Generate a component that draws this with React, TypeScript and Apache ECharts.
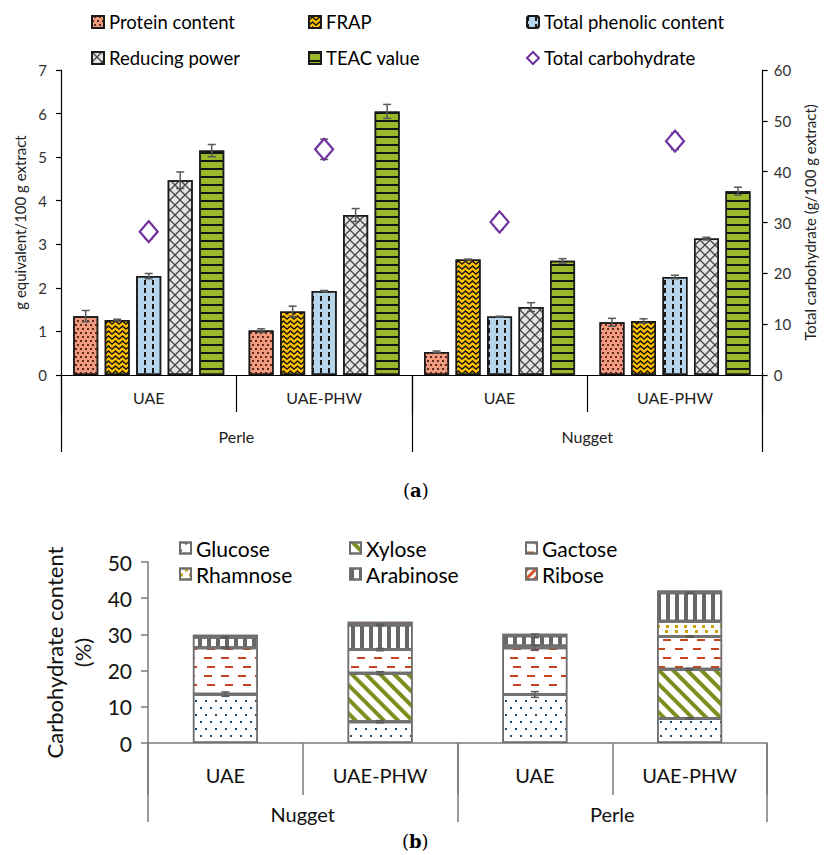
import React, { useEffect, useRef } from 'react';
import * as echarts from 'echarts';

// ---------- Chart (a) data ----------
const subCatsA = ['UAE', 'UAE-PHW', 'UAE', 'UAE-PHW'];
const groupsA = ['Perle', 'Nugget'];
const protein = [1.35, 1.02, 0.53, 1.21];
const proteinErr = [0.13, 0.04, 0.02, 0.09];
const frap = [1.26, 1.46, 2.65, 1.24];
const frapErr = [0.02, 0.12, 0.01, 0.05];
const tpc = [2.27, 1.93, 1.34, 2.25];
const tpcErr = [0.06, 0.01, 0.01, 0.04];
const reducing = [4.47, 3.67, 1.56, 3.13];
const reducingErr = [0.19, 0.15, 0.1, 0.03];
const teac = [5.15, 6.05, 2.62, 4.22];
const teacErr = [0.14, 0.16, 0.05, 0.09];
const carb = [28.2, 44.4, 30.1, 46.0];
const carbErr = [1.4, 2.0, 1.5, 1.6];

// ---------- Chart (b) data ----------
const subCatsB = ['UAE', 'UAE-PHW', 'UAE', 'UAE-PHW'];
const groupsB = ['Nugget', 'Perle'];
const glucose = [13.5, 5.9, 13.4, 6.8];
const glucoseErr = [0.6, 0.3, 0.8, 0.2];
const xylose = [0, 13.4, 0, 13.6];
const xyloseErr = [0, 0.4, 0, 0.2];
const gactose = [12.8, 6.5, 12.9, 9.0];
const gactoseErr = [0.2, 0.3, 0.7, 0.2];
const rhamnose = [0, 0, 0.5, 4.2];
const arabinose = [2.9, 6.8, 2.8, 7.9];
const arabinoseErr = [0.2, 0.2, 0.5, 0.2];
const ribose = [0.7, 0.9, 0.6, 0.6];

const FONT = 'Lato, "Noto Sans", sans-serif';
const BAR_W = 25;
const BAR_STEP = 31.5;

const rectDecal = (color: string, dx: any, dy: any, rotation = 0) => ({
  symbol: 'rect',
  symbolSize: 1,
  symbolKeepAspect: false,
  color,
  dashArrayX: dx,
  dashArrayY: dy,
  rotation,
});

const decalProtein = rectDecal('#5a2c1e', [[1.3, 2.7], [0, 2, 1.3, 0.7]], [1.3, 1.7]);
const decalFrap = {
  symbol: 'path://M0,7 L5,2 L10,7 L10,10 L5,5 L0,10 Z',
  symbolSize: 1,
  symbolKeepAspect: false,
  color: '#111',
  dashArrayX: [7, 0],
  dashArrayY: [5, 0],
};
const decalTpc = rectDecal('#1a1a1a', [1.4, 6], [4.5, 3]);
const decalRp = {
  symbol:
    'path://M0,0 L0.9,0 L10,9.1 L10,10 L9.1,10 L0,0.9 Z M9.1,0 L10,0 L10,0.9 L0.9,10 L0,10 L0,9.1 Z',
  symbolSize: 1,
  symbolKeepAspect: false,
  color: '#444',
  dashArrayX: [10, 0],
  dashArrayY: [10, 0],
};
const decalTeac = rectDecal('#151515', [10, 0], [1.8, 5.2]);

const decalGlucose = rectDecal('#1F4E79', [[1.6, 7.4], [0, 4.5, 1.6, 2.9]], [1.6, 5]);
const decalXylose = rectDecal('#7C9020', [4, 6], [10, 0], -Math.PI / 4);
const decalGactose = rectDecal('#C4461E', [[8, 9], [0, 8.5, 8, 0.5]], [2, 7]);
const decalRhamnose = rectDecal('#C9A100', [[3, 6], [0, 4.5, 3, 1.5]], [3, 2]);
const decalArabinose = rectDecal('#666666', [3.5, 4.5], [10, 0]);
const decalRibose = rectDecal('#D9502A', [2.5, 3], [10, 0], Math.PI / 4);

function errBarItem(params: any, api: any, offset: number) {
  const cat = api.value(0);
  const lo = api.value(2);
  const hi = api.value(3);
  const pLo = api.coord([cat, lo]);
  const pHi = api.coord([cat, hi]);
  const x = pLo[0] + offset;
  const cap = 4;
  const style = { stroke: '#595959', lineWidth: 1.5 };
  return {
    type: 'group',
    children: [
      { type: 'line', shape: { x1: x, y1: pLo[1], x2: x, y2: pHi[1] }, style },
      { type: 'line', shape: { x1: x - cap, y1: pLo[1], x2: x + cap, y2: pLo[1] }, style },
      { type: 'line', shape: { x1: x - cap, y1: pHi[1], x2: x + cap, y2: pHi[1] }, style },
    ],
  };
}

function buildOption() {
  const barSeriesA = [
    { name: 'Protein content', data: protein, color: '#F29A80', decal: decalProtein },
    { name: 'FRAP', data: frap, color: '#FFC000', decal: decalFrap },
    { name: 'Total phenolic content', data: tpc, color: '#B7D6EC', decal: decalTpc },
    { name: 'Reducing power', data: reducing, color: '#E4E4E4', decal: decalRp },
    { name: 'TEAC value', data: teac, color: '#9BB72A', decal: decalTeac },
  ];
  const errsA = [proteinErr, frapErr, tpcErr, reducingErr, teacErr];

  const errDataA: number[][] = [];
  barSeriesA.forEach((s, si) => {
    s.data.forEach((v, ci) => {
      errDataA.push([ci, si, v - errsA[si][ci], v + errsA[si][ci]]);
    });
  });
  const carbErrData = carb.map((v, ci) => [ci, 2, v - carbErr[ci], v + carbErr[ci]]);

  const stackB = [
    { name: 'Glucose', data: glucose, decal: decalGlucose, err: glucoseErr },
    { name: 'Xylose', data: xylose, decal: decalXylose, err: xyloseErr },
    { name: 'Gactose', data: gactose, decal: decalGactose, err: gactoseErr },
    { name: 'Rhamnose', data: rhamnose, decal: decalRhamnose, err: null },
    { name: 'Arabinose', data: arabinose, decal: decalArabinose, err: arabinoseErr },
    { name: 'Ribose', data: ribose, decal: decalRibose, err: null },
  ];
  const errDataB: number[][] = [];
  const cum = [0, 0, 0, 0];
  stackB.forEach((s) => {
    s.data.forEach((v, ci) => {
      cum[ci] += v;
      if (s.err && s.err[ci] > 0) {
        errDataB.push([ci, 0, cum[ci] - s.err[ci], cum[ci] + s.err[ci]]);
      }
    });
  });

  const legendBase = {
    orient: 'vertical',
    selectedMode: false,
    padding: 0,
    icon: 'rect',
  };
  const legA = (left: number, data: string[]) => ({
    ...legendBase,
    left,
    top: 12,
    itemWidth: 12,
    itemHeight: 12,
    itemGap: 16,
    data,
    textStyle: { fontFamily: FONT, fontSize: 18.5, lineHeight: 20, color: '#000' },
  });
  const legB = (left: number, data: string[]) => ({
    ...legendBase,
    left,
    top: 537,
    itemWidth: 11,
    itemHeight: 11,
    itemGap: 4,
    data,
    textStyle: { fontFamily: FONT, fontSize: 21, lineHeight: 22, color: '#000' },
  });

  return {
    animation: false,
    backgroundColor: '#fff',
    textStyle: { fontFamily: FONT },
    legend: [
      legA(91, ['Protein content', 'Reducing power']),
      legA(308, ['FRAP', 'TEAC value']),
      { ...legA(526, ['Total phenolic content', 'Total carbohydrate']), icon: undefined },
      legB(179, ['Glucose', 'Rhamnose']),
      legB(349, ['Xylose', 'Arabinose']),
      legB(525, ['Gactose', 'Ribose']),
    ],
    grid: [
      { left: 61, right: 62, top: 70, height: 305, containLabel: false },
      { left: 148, right: 58, top: 562, height: 181, containLabel: false },
    ],
    xAxis: [
      {
        type: 'category',
        gridIndex: 0,
        data: subCatsA,
        axisLine: { show: true, lineStyle: { color: '#000', width: 1.2 } },
        axisTick: { show: true, length: 37, interval: 0, lineStyle: { color: '#000', width: 1.2 } },
        axisLabel: { interval: 0, margin: 14, fontSize: 16, color: '#222', fontFamily: FONT },
      },
      {
        type: 'category',
        gridIndex: 0,
        position: 'bottom',
        data: groupsA,
        axisLine: { show: false },
        axisTick: { show: true, length: 77, interval: 0, lineStyle: { color: '#000', width: 1.2 } },
        axisLabel: { interval: 0, margin: 53, fontSize: 16, color: '#222', fontFamily: FONT },
      },
      {
        type: 'category',
        gridIndex: 1,
        data: subCatsB,
        axisLine: { show: true, lineStyle: { color: '#7a7a7a', width: 1.5 } },
        axisTick: { show: true, length: 52, interval: 0, lineStyle: { color: '#7a7a7a', width: 1.5 } },
        axisLabel: { interval: 0, margin: 22, fontSize: 20, color: '#111', fontFamily: FONT },
      },
      {
        type: 'category',
        gridIndex: 1,
        position: 'bottom',
        data: groupsB,
        axisLine: { show: false },
        axisTick: { show: true, length: 79, interval: 0, lineStyle: { color: '#7a7a7a', width: 1.5 } },
        axisLabel: { interval: 0, margin: 61, fontSize: 20, color: '#111', fontFamily: FONT },
      },
    ],
    yAxis: [
      {
        type: 'value',
        gridIndex: 0,
        min: 0,
        max: 7,
        interval: 1,
        name: 'g equivalent/100 g extract',
        nameLocation: 'middle',
        nameRotate: 90,
        nameGap: 34,
        nameTextStyle: { fontSize: 15, color: '#222', fontFamily: FONT },
        axisLine: { show: true, lineStyle: { color: '#000', width: 1.2 } },
        axisTick: { show: true, length: 5, lineStyle: { color: '#000', width: 1.2 } },
        splitLine: { show: false },
        axisLabel: { margin: 14, fontSize: 15, color: '#333', fontFamily: FONT },
      },
      {
        type: 'value',
        gridIndex: 0,
        position: 'right',
        min: 0,
        max: 60,
        interval: 10,
        name: 'Total carbohydrate (g/100 g extract)',
        nameLocation: 'middle',
        nameRotate: 90,
        nameGap: 30,
        nameTextStyle: { fontSize: 15, color: '#222', fontFamily: FONT },
        axisLine: { show: true, lineStyle: { color: '#000', width: 1.2 } },
        axisTick: { show: true, length: 5, lineStyle: { color: '#000', width: 1.2 } },
        splitLine: { show: false },
        axisLabel: { margin: 11, fontSize: 15, color: '#333', fontFamily: FONT },
      },
      {
        type: 'value',
        gridIndex: 1,
        min: 0,
        max: 50,
        interval: 10,
        name: 'Carbohydrate content\n(%)',
        nameLocation: 'middle',
        nameRotate: 90,
        nameGap: 46,
        nameTextStyle: { fontSize: 22, lineHeight: 28, color: '#111', fontFamily: FONT },
        axisLine: { show: true, lineStyle: { color: '#7a7a7a', width: 1.5 } },
        axisTick: { show: true, length: 7, lineStyle: { color: '#7a7a7a', width: 1.5 } },
        splitLine: { show: false },
        axisLabel: { margin: 16, fontSize: 21, color: '#111', fontFamily: FONT },
      },
    ],
    series: [
      ...barSeriesA.map((s) => ({
        type: 'bar',
        name: s.name,
        xAxisIndex: 0,
        yAxisIndex: 0,
        barWidth: BAR_W,
        barGap: '26%',
        data: s.data,
        itemStyle: { color: s.color, borderColor: '#1a1a1a', borderWidth: 1.5, decal: s.decal },
      })),
      {
        type: 'custom',
        name: 'errA',
        xAxisIndex: 0,
        yAxisIndex: 0,
        encode: { x: 0, y: [2, 3] },
        data: errDataA,
        z: 5,
        renderItem: (params: any, api: any) => errBarItem(params, api, (api.value(1) - 2) * BAR_STEP),
      },
      {
        type: 'scatter',
        name: 'Total carbohydrate',
        xAxisIndex: 0,
        yAxisIndex: 1,
        symbol: 'diamond',
        symbolSize: [18, 21],
        data: carb,
        z: 6,
        itemStyle: { color: '#fff', borderColor: '#7030A0', borderWidth: 2.2, opacity: 1 },
      },
      {
        type: 'custom',
        name: 'errCarb',
        xAxisIndex: 0,
        yAxisIndex: 1,
        encode: { x: 0, y: [2, 3] },
        data: carbErrData,
        z: 5,
        renderItem: (params: any, api: any) => errBarItem(params, api, 0),
      },
      ...stackB.map((s) => ({
        type: 'bar',
        name: s.name,
        stack: 'carbs',
        xAxisIndex: 2,
        yAxisIndex: 2,
        barWidth: 65,
        data: s.data.map((v) => (v === 0 ? null : v)),
        itemStyle: { color: '#fff', borderColor: '#6e6e6e', borderWidth: 1.5, decal: s.decal },
      })),
      {
        type: 'custom',
        name: 'errB',
        xAxisIndex: 2,
        yAxisIndex: 2,
        encode: { x: 0, y: [2, 3] },
        data: errDataB,
        z: 5,
        renderItem: (params: any, api: any) => errBarItem(params, api, 0),
      },
    ],
    graphic: [
      {
        type: 'text',
        left: 403,
        top: 481,
        style: {
          text: '{p|(}{b|a}{p|)}',
          rich: {
            p: { fontFamily: '"DejaVu Serif", serif', fontSize: 18, fill: '#000' },
            b: { fontFamily: '"DejaVu Serif", serif', fontSize: 18, fontWeight: 'bold', fill: '#000' },
          },
        },
      },
      {
        type: 'text',
        left: 402,
        top: 832,
        style: {
          text: '{p|(}{b|b}{p|)}',
          rich: {
            p: { fontFamily: '"DejaVu Serif", serif', fontSize: 18, fill: '#000' },
            b: { fontFamily: '"DejaVu Serif", serif', fontSize: 18, fontWeight: 'bold', fill: '#000' },
          },
        },
      },
    ],
  };
}

export default function App() {
  const ref = useRef<HTMLDivElement>(null);
  useEffect(() => {
    document.body.style.margin = '0';
    const chart = echarts.init(ref.current!, null, { renderer: 'svg' });
    chart.setOption(buildOption() as any);
    return () => chart.dispose();
  }, []);
  return <div ref={ref} style={{ width: 825, height: 855 }} />;
}
